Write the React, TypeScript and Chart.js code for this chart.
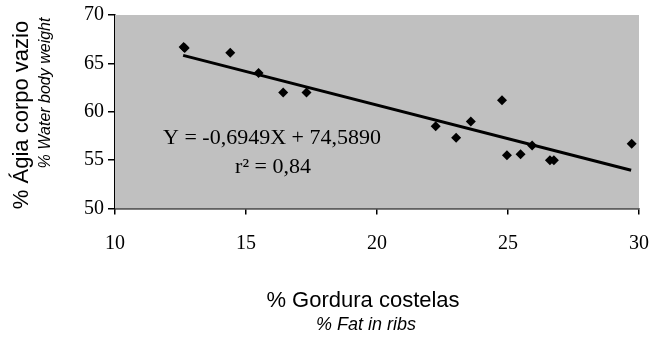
import React, { useEffect, useRef } from "react";
import { Chart, registerables } from "chart.js";

Chart.register(...registerables);

const fatRibs = [12.62, 12.66, 14.4, 15.48, 16.42, 17.31, 22.24, 23.02, 23.58, 24.77, 24.96, 25.48, 25.92, 26.6, 26.75, 29.72];
const waterBody = [66.7, 66.6, 66.1, 64.0, 62.0, 62.0, 58.5, 57.3, 59.0, 61.2, 55.5, 55.6, 56.5, 55.0, 55.0, 56.7];
const trendX = [12.6, 29.7];
const trendY = [65.83, 53.95];
const xTicks = [10, 15, 20, 25, 30];
const yTicks = [50, 55, 60, 65, 70];
const equationLines = ["Y = -0,6949X + 74,5890", "r\u00B2 = 0,84"];
const xTitle = ["% Gordura costelas", "% Fat in ribs"];
const yTitle = ["% \u00C1gia corpo vazio", "% Water body weight"];

const SERIF = "'Liberation Serif', 'Times New Roman', serif";
const SANS = "'Liberation Sans', Arial, sans-serif";

const decorPlugin = {
  id: "decor",
  beforeDatasetsDraw(chart: any) {
    const { ctx, chartArea } = chart;
    ctx.save();
    ctx.fillStyle = "#c0c0c0";
    ctx.fillRect(chartArea.left, chartArea.top, chartArea.right - chartArea.left, chartArea.bottom - chartArea.top);
    ctx.restore();
  },
  afterDraw(chart: any) {
    const { ctx } = chart;
    ctx.save();
    ctx.fillStyle = "#000";
    ctx.textAlign = "center";
    ctx.textBaseline = "alphabetic";
    ctx.font = `22px ${SERIF}`;
    ctx.fillText(equationLines[0], 272, 144);
    ctx.fillText(equationLines[1], 273, 173);
    ctx.font = `22px ${SANS}`;
    ctx.fillText(xTitle[0], 363, 307);
    ctx.font = `italic 18px ${SANS}`;
    ctx.fillText(xTitle[1], 366, 330);
    ctx.save();
    ctx.translate(28, 115);
    ctx.rotate(-Math.PI / 2);
    ctx.font = `22px ${SANS}`;
    ctx.fillText(yTitle[0], 0, 0);
    ctx.restore();
    ctx.save();
    ctx.translate(50, 93);
    ctx.rotate(-Math.PI / 2);
    ctx.font = `italic 16px ${SANS}`;
    ctx.fillText(yTitle[1], 0, 0);
    ctx.restore();
    ctx.restore();
  },
};

export default function App() {
  const ref = useRef<HTMLCanvasElement>(null);
  useEffect(() => {
    document.body.style.margin = "0";
    const canvas = ref.current!;
    const chart = new Chart(canvas, {
      type: "scatter",
      data: {
        datasets: [
          {
            data: fatRibs.map((x, i) => ({ x, y: waterBody[i] })),
            pointStyle: "rectRot",
            pointRadius: 5,
            backgroundColor: "#000",
            borderColor: "#000",
            borderWidth: 0,
          },
          {
            type: "line",
            data: trendX.map((x, i) => ({ x, y: trendY[i] })),
            showLine: true,
            pointRadius: 0,
            borderColor: "#000",
            borderWidth: 3,
            fill: false,
          } as any,
        ],
      },
      options: {
        animation: false,
        responsive: false,
        maintainAspectRatio: false,
        layout: { padding: { top: 15, right: 13, left: 0, bottom: 0 } },
        plugins: { legend: { display: false }, tooltip: { enabled: false } },
        scales: {
          x: {
            type: "linear",
            min: 10,
            max: 30,
            afterBuildTicks: (s: any) => {
              s.ticks = xTicks.map((v) => ({ value: v }));
            },
            afterFit: (s: any) => {
              s.height = 128.5;
              s.paddingLeft = 0;
              s.paddingRight = 0;
            },
            ticks: { color: "#000", font: { family: SERIF, size: 20 }, padding: 17, maxRotation: 0 },
            grid: { drawOnChartArea: false, drawTicks: true, tickLength: 6, color: "#000", lineWidth: 1.5 },
            border: { display: true, color: "#000", width: 1.5 },
          },
          y: {
            type: "linear",
            min: 50,
            max: 70,
            afterBuildTicks: (s: any) => {
              s.ticks = yTicks.map((v) => ({ value: v }));
            },
            afterFit: (s: any) => {
              s.width = 115;
              s.paddingTop = 0;
              s.paddingBottom = 0;
            },
            ticks: { color: "#000", font: { family: SERIF, size: 20 }, padding: 4 },
            grid: { drawOnChartArea: false, drawTicks: true, tickLength: 7, color: "#000", lineWidth: 1.5 },
            border: { display: true, color: "#000", width: 1.5 },
          },
        },
      },
      plugins: [decorPlugin],
    });
    return () => chart.destroy();
  }, []);
  return <canvas ref={ref} width={652} height={337} style={{ display: "block" }} />;
}
